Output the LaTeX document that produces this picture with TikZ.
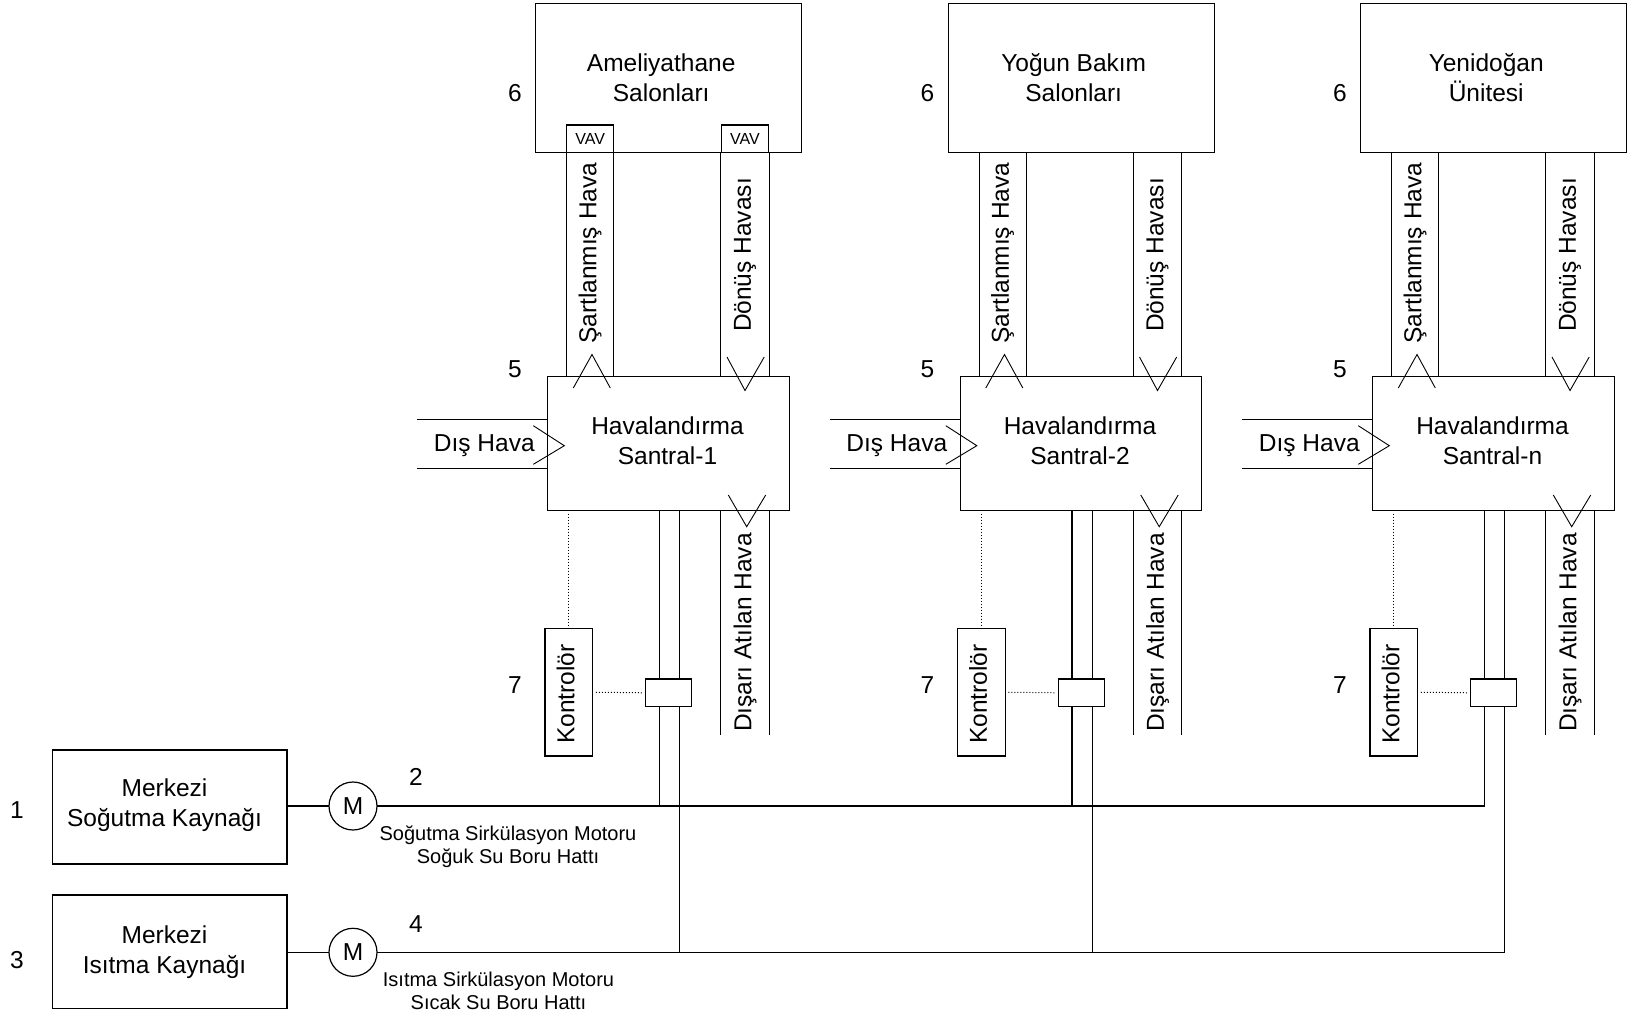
\documentclass[tikz,border=0pt]{standalone}
\usepackage{fontspec}
\setmainfont{Liberation Sans}
\begin{document}
\begin{tikzpicture}[x=1pt,y=-1pt,line width=1.2pt,
  every node/.style={inner sep=0pt,outer sep=0pt,font=\fontsize{24.5}{30}\selectfont},
  box/.style={draw,rectangle,fill=white},
  txt/.style={align=center},
  chev/.style={line width=0.9pt},
  dots/.style={dotted,line width=1pt,shorten <=3pt,shorten >=3pt},
  smalltxt/.style={align=center,font=\fontsize{20}{23}\selectfont},
  vavbox/.style={draw,rectangle,minimum width=47pt,minimum height=27.4pt,font=\fontsize{16}{18}\selectfont},
  vert/.style={rotate=90}
]
\useasboundingbox (0,0) rectangle (1627,1013);

% sources and motors
\node[box,minimum width=234.3pt,minimum height=114pt] (src1) at (169.9,807) {};
\node[txt] (src1t) at (164.5,805.4) {Merkezi\\Soğutma Kaynağı};
\node[box,minimum width=234.3pt,minimum height=113.3pt] (src2) at (169.9,951.7) {};
\node[txt] (src2t) at (164.5,952) {Merkezi\\Isıtma Kaynağı};
\node[draw,circle,minimum size=48pt,fill=white] (m1) at (353,806) {M};
\node[draw,circle,minimum size=48pt,fill=white] (m2) at (353,952.3) {M};
\draw (src1.east |- m1) -- (m1.west);
\draw (src2.east |- m2) -- (m2.west);
\node (n1) at (17,810) {1};
\node (n2) at (416,777) {2};
\node (n3) at (17,960) {3};
\node (n4) at (416,924) {4};
\node[smalltxt] (c1t) at (508,847) {Soğutma Sirkülasyon Motoru\\Soğuk Su Boru Hattı};
\node[smalltxt] (h1t) at (498.5,991) {Isıtma Sirkülasyon Motoru\\Sıcak Su Boru Hattı};

\foreach \i/\ra/\rb/\sn in {0/Ameliyathane/Salonları/1,1/Yoğun Bakım/Salonları/2,2/Yenidoğan/Ünitesi/n}{
  \pgfmathsetmacro\dx{\i*412.5}
  % room
  \node[box,minimum width=266pt,minimum height=149pt] (room\i) at ({668.7+\dx},77.8) {};
  \node[txt] (roomt\i) at ({661.2+\dx},77.9) {\ra\\\rb};
  \node (nsix\i) at ({515+\dx},93) {6};
  % AHU
  \node[box,minimum width=241.6pt,minimum height=134pt] (ahu\i) at ({668.5+\dx},443.7) {};
  \node[txt] (ahut\i) at ({667.5+\dx},441.2) {Havalandırma\\Santral-\sn};
  \node (nfive\i) at ({515+\dx},369) {5};
  % reference x positions
  \coordinate (sa\i) at ({566.7+\dx},0);
  \coordinate (sb\i) at ({613.7+\dx},0);
  \coordinate (ra\i) at ({720.7+\dx},0);
  \coordinate (rb\i) at ({769.3+\dx},0);
  \coordinate (exend\i) at ({745+\dx},735);
  \coordinate (pa\i) at ({659.5+\dx},0);
  \coordinate (pb\i) at ({679.7+\dx},0);
  \coordinate (oat\i) at ({417.3+\dx},419.3);
  \coordinate (oab\i) at ({417.3+\dx},468.3);
  % supply / return ducts
  \draw (room\i.south -| sa\i) -- (ahu\i.north -| sa\i);
  \draw (room\i.south -| sb\i) -- (ahu\i.north -| sb\i);
  \draw (room\i.south -| ra\i) -- (ahu\i.north -| ra\i);
  \draw (room\i.south -| rb\i) -- (ahu\i.north -| rb\i);
  % exhaust duct
  \draw (ahu\i.south -| ra\i) -- (ra\i |- exend\i);
  \draw (ahu\i.south -| rb\i) -- (rb\i |- exend\i);
  % outside air duct
  \draw (oat\i) -- (oat\i -| ahu\i.west);
  \draw (oab\i) -- (oab\i -| ahu\i.west);
  % chevrons
  \draw[chev] ({573.3+\dx},388) -- ({592+\dx},354.5) -- ({610.3+\dx},388);
  \draw[chev] ({727+\dx},357) -- ({745+\dx},390.5) -- ({764.2+\dx},357);
  \draw[chev] ({728.3+\dx},495) -- ({746.7+\dx},526.7) -- ({765.7+\dx},495);
  \draw[chev] ({533.3+\dx},425.7) -- ({564.3+\dx},445.7) -- ({533.3+\dx},464.3);
  % duct labels
  \node[vert] (sup\i) at ({590+\dx},253.3) {Şartlanmış Hava};
  \node[vert] (ret\i) at ({745+\dx},255) {Dönüş Havası};
  \node[vert] (exh\i) at ({745+\dx},632.5) {Dışarı Atılan Hava};
  \node (dis\i) at ({484.3+\dx},446) {Dış Hava};
  % water pipes
  \draw (ahu\i.south -| pa\i) -- (pa\i |- m1);
  \draw (ahu\i.south -| pb\i) -- (pb\i |- m2);
  % valve and controller
  \node[box,minimum width=46pt,minimum height=27.7pt] (valve\i) at ({668.7+\dx},692.8) {};
  \node[box,minimum width=47.7pt,minimum height=127.7pt] (kont\i) at ({568.9+\dx},692.2) {};
  \node[vert] (kontt\i) at ({565.5+\dx},694.2) {Kontrolör};
  \draw[dots] (ahu\i.south -| kont\i) -- (kont\i.north);
  \draw[dots] (kont\i.east) -- (valve\i.west);
  \node (nseven\i) at ({515+\dx},685.5) {7};
}

% VAV boxes in the first column
\node[vavbox] (vav1) at (590.2,138.7) {VAV};
\node[vavbox] (vav2) at (745,138.7) {VAV};

% water mains
\draw (m1.east) -- (pa2 |- m1);
\draw (m2.east) -- (pb2 |- m2);
\end{tikzpicture}
\end{document}
